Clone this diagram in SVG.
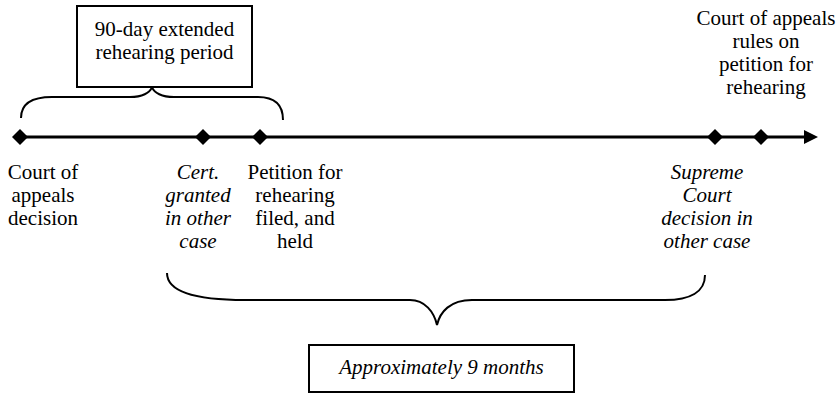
<svg xmlns="http://www.w3.org/2000/svg" width="838" height="396" viewBox="0 0 838 396">
<defs>
<style>
text{font-family:"Liberation Serif","Times New Roman",serif;font-size:21px;fill:#000;text-anchor:middle}
.it{font-style:italic}
.box{fill:#fff;stroke:#000;stroke-width:2}
.dia{fill:#000}
.line{fill:none;stroke:#000;stroke-width:3}
.brace{fill:none;stroke:#000;stroke-width:2}
</style>
<marker id="arrow" markerUnits="userSpaceOnUse" markerWidth="16" markerHeight="16" refX="0" refY="7" orient="auto">
<path d="M0,0 L14,7 L0,14 Z" fill="#000"/>
</marker>
</defs>
<rect width="838" height="396" fill="#fff"/>
<g id="connectors">
<line class="line" x1="20" y1="137" x2="804" y2="137" marker-end="url(#arrow)"/>
<path id="brace-90day" class="brace" d="M21,118 C21,104 32,97 52,97 L130,97 C142,97 150,93 152,87 C154,93 162,97 174,97 L258,97 C276,97 283,106 283,120"/>
<path id="brace-9months" class="brace" d="M167,273 C167,292 195,300 245,300 L410,300 C425,300 434,312 437,325 C440,312 450,300 472,300 L665,300 C690,300 705,292 705,275"/>
</g>
<g id="box-90day">
<rect class="box" x="77" y="6" width="175" height="81"/>
<text x="164.5" y="36">90-day extended</text>
<text x="164.5" y="59">rehearing period</text>
</g>
<g id="box-9months">
<rect class="box" x="309" y="345" width="265" height="47"/>
<text class="it" x="441.5" y="374">Approximately 9 months</text>
</g>
<g id="event-coa-decision">
<polygon class="dia" points="20,129 28,137 20,145 12,137"/>
<text x="43" y="179">Court of</text>
<text x="43" y="202">appeals</text>
<text x="43" y="225">decision</text>
</g>
<g id="event-cert-granted">
<polygon class="dia" points="203,129 211,137 203,145 195,137"/>
<text class="it" x="198" y="179">Cert.</text>
<text class="it" x="198" y="202">granted</text>
<text class="it" x="198" y="225">in other</text>
<text class="it" x="198" y="248">case</text>
</g>
<g id="event-petition-filed">
<polygon class="dia" points="260,129 268,137 260,145 252,137"/>
<text x="295" y="179">Petition for</text>
<text x="295" y="202">rehearing</text>
<text x="295" y="225">filed, and</text>
<text x="295" y="248">held</text>
</g>
<g id="event-sc-decision">
<polygon class="dia" points="715,129 723,137 715,145 707,137"/>
<text class="it" x="707" y="179">Supreme</text>
<text class="it" x="707" y="202">Court</text>
<text class="it" x="707" y="225">decision in</text>
<text class="it" x="707" y="248">other case</text>
</g>
<g id="event-coa-rules">
<polygon class="dia" points="761,129 769,137 761,145 753,137"/>
<text x="766" y="25">Court of appeals</text>
<text x="766" y="48">rules on</text>
<text x="766" y="71">petition for</text>
<text x="766" y="94">rehearing</text>
</g>
</svg>
